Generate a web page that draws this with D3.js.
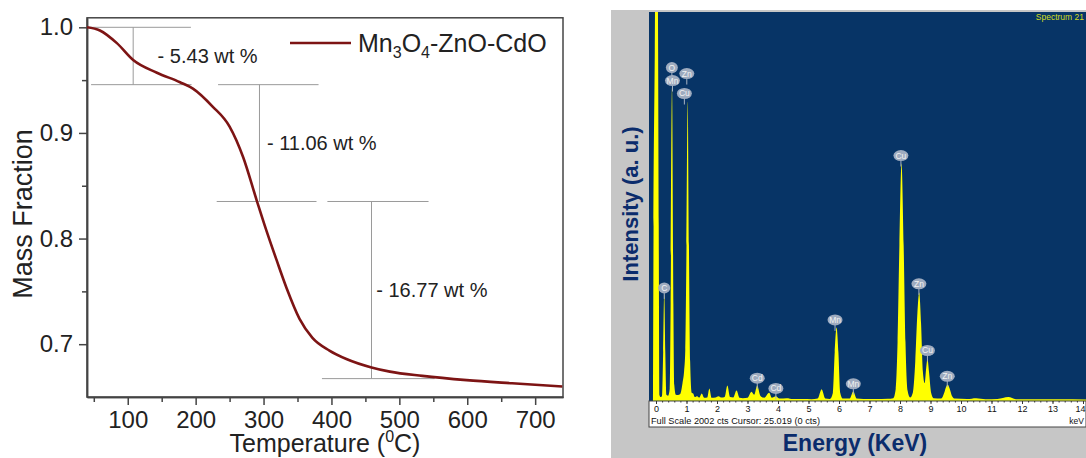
<!DOCTYPE html>
<html lang="en">
<head>
  <meta charset="UTF-8">
  <title>TGA and EDX of Mn3O4-ZnO-CdO</title>
  <script src="https://d3js.org/d3.v7.min.js"></script>
  <style>
    body { margin: 0; background: #fff; }
    svg { display: block; font-family: "Liberation Sans", Arial, sans-serif; }
    .tga .domain, .tga .tick line { stroke: #444; stroke-width: 1.5; }
    .tga .tick text { font-size: 24px; fill: #222; }
    .bracket { stroke: #9a9a9a; stroke-width: 1; fill: none; }
    .note { font-size: 20px; fill: #222; }
    .eds .tick text { font-size: 9px; fill: #111; }
    .eds .tick line { stroke: #333; }
    .eds .domain { stroke: none; }
    .tag text { font-size: 8.5px; fill: #f2f2f2; text-anchor: middle; }
  </style>
</head>
<body>
  <div id="chart"></div>

  <script>
    // ---- TGA curve (left) ----
    const temps = [40, 59, 84, 108, 143, 177, 196, 225, 250, 270, 290, 304, 319, 334, 353, 372, 397, 422, 459, 486, 534, 599, 666, 740];
    const mass  = [1.0, 0.997, 0.985, 0.969, 0.957, 0.948, 0.942, 0.925, 0.906, 0.877, 0.836, 0.808, 0.780, 0.753, 0.724, 0.706, 0.694, 0.686, 0.678, 0.674, 0.670, 0.666, 0.663, 0.660];
    const xTicks = [100, 200, 300, 400, 500, 600, 700];
    const yTicks = [0.7, 0.8, 0.9, 1.0];

    // weight-loss steps
    const lossPct   = [5.43, 11.06, 16.77];
    const topSpan   = [[40, 193], [233, 381], [394, 543]];   // upper guide line, in °C
    const botSpan   = [[46, 194], [231, 378], [386, 552]];   // lower guide line, in °C
    const stepAt    = [108, 294, 459];                       // vertical guide, in °C
    const noteAt    = [144, 305, 466];                       // label start, in °C

    // ---- EDX spectrum (right) ----
    const keV = [-0.1, -0.08, -0.04, -0.01, 0.04, 0.07, 0.09, 0.11,
      0.15, 0.2, 0.235, 0.27, 0.305, 0.34,
      0.4, 0.45, 0.48, 0.525, 0.57, 0.6, 0.65,
      0.72, 0.8, 0.87, 0.92, 0.96, 1.0, 1.04, 1.08, 1.12, 1.17,
      1.22, 1.27, 1.35, 1.42, 1.5, 1.58, 1.68, 1.75, 1.82, 1.95, 2.05, 2.15, 2.25, 2.34, 2.43, 2.53, 2.64, 2.74, 2.85,
      3.0, 3.13, 3.22, 3.32, 3.42, 3.55, 3.71, 3.8, 3.93, 4.05, 4.28, 4.5, 4.8, 5.1, 5.3, 5.43, 5.55, 5.7,
      5.8, 5.86, 5.92, 5.98, 6.04, 6.12, 6.35, 6.47, 6.58, 6.8, 7.2, 7.6,
      7.78, 7.86, 7.92, 7.98, 8.05, 8.12, 8.18, 8.25, 8.33,
      8.42, 8.5, 8.57, 8.63, 8.69, 8.75, 8.81, 8.86, 8.9, 8.95, 9.02, 9.1,
      9.35, 9.45, 9.51, 9.57, 9.63, 9.7, 9.8, 10.2, 10.5, 10.8, 11.2, 11.55, 11.8, 12.5, 13.2, 14.2];
    const counts = [0, 900, 1800, 2600, 2600, 1800, 900, 30,
      18, 22, 250, 552, 250, 30,
      25, 60, 500, 1615, 500, 80, 30,
      28, 35, 90, 150, 260, 800, 1543, 800, 200, 40,
      36, 18, 22, 15, 36, 14, 15, 62, 14, 16, 22, 15, 18, 77, 18, 16, 52, 14, 12,
      14, 45, 30, 77, 25, 14, 40, 14, 22, 10, 12, 8, 8, 7, 10, 58, 10, 8,
      40, 250, 377, 250, 40, 10, 10, 46, 10, 8, 8, 9,
      12, 60, 300, 800, 1223, 800, 300, 50, 15,
      40, 200, 450, 557, 400, 150, 90, 170, 216, 150, 40, 12,
      10, 40, 70, 81, 60, 25, 10, 8, 12, 7, 8, 18, 7, 6, 6, 5];
    const peakEl  = ["O", "Mn", "Zn", "Cu", "C", "Cd", "Cd", "Mn", "Mn", "Cu", "Zn", "Cu", "Zn"];
    const peakKeV = [0.52, 0.54, 1.01, 0.93, 0.27, 3.32, 3.93, 5.87, 6.47, 8.03, 8.62, 8.9, 9.55];
    const peakTag = [1718, 1651, 1687, 1584, 581, 115, 62, 416, 86, 1264, 602, 258, 125];
    const keVTicks = d3.range(0, 15);

    const svg = d3.select("#chart").append("svg")
      .attr("width", 1086).attr("height", 458);

    // ================= left: TGA =================
    const x = d3.scaleLinear().domain([40, 741]).range([87, 563]);
    const y = d3.scaleLinear().domain([0.65, 1.009]).range([397, 17.8]);

    const tga = svg.append("g").attr("class", "tga");

    // frame
    tga.append("rect")
      .attr("x", x.range()[0]).attr("y", y.range()[1])
      .attr("width", x.range()[1] - x.range()[0])
      .attr("height", y.range()[0] - y.range()[1])
      .attr("fill", "none").attr("stroke", "#444").attr("stroke-width", 1.5);

    tga.append("g")
      .attr("transform", `translate(0,${y.range()[0]})`)
      .call(d3.axisBottom(x).tickValues(xTicks).tickSize(8).tickPadding(6).tickSizeOuter(0));
    tga.append("g")
      .attr("transform", `translate(0,${y.range()[0]})`)
      .call(d3.axisBottom(x).tickValues(d3.range(50, 741, 100)).tickSize(5).tickFormat("").tickSizeOuter(0));

    tga.append("g")
      .attr("transform", `translate(${x.range()[0]},0)`)
      .call(d3.axisLeft(y).tickValues(yTicks).tickFormat(d3.format(".1f")).tickSize(8).tickPadding(6).tickSizeOuter(0));
    tga.append("g")
      .attr("transform", `translate(${x.range()[0]},0)`)
      .call(d3.axisLeft(y).tickValues([0.75, 0.85, 0.95]).tickSize(5).tickFormat("").tickSizeOuter(0));

    // guide brackets
    let level = 1.0;
    lossPct.forEach((p, i) => {
      const lo = level - p / 100;
      tga.append("line").attr("class", "bracket")
        .attr("x1", x(topSpan[i][0])).attr("x2", x(topSpan[i][1]))
        .attr("y1", y(level)).attr("y2", y(level));
      tga.append("line").attr("class", "bracket")
        .attr("x1", x(botSpan[i][0])).attr("x2", x(botSpan[i][1]))
        .attr("y1", y(lo)).attr("y2", y(lo));
      tga.append("line").attr("class", "bracket")
        .attr("x1", x(stepAt[i])).attr("x2", x(stepAt[i]))
        .attr("y1", y(level)).attr("y2", y(lo));
      tga.append("text").attr("class", "note")
        .attr("x", x(noteAt[i]))
        .attr("y", (y(level) + y(lo)) / 2)
        .attr("dy", "0.35em")
        .text(`- ${p.toFixed(2)} wt %`);
      level = lo;
    });

    const tgaData = temps.map((t, i) => ({ t, m: mass[i] }));
    tga.append("path")
      .datum(tgaData)
      .attr("fill", "none")
      .attr("stroke", "#7d1414")
      .attr("stroke-width", 2.6)
      .attr("d", d3.line().x(d => x(d.t)).y(d => y(d.m)).curve(d3.curveMonotoneX));

    // legend
    tga.append("line")
      .attr("x1", 290).attr("x2", 351).attr("y1", 43).attr("y2", 43)
      .attr("stroke", "#7d1414").attr("stroke-width", 2.6);
    const leg = tga.append("text").attr("x", 358).attr("y", 52)
      .attr("font-size", 25).attr("fill", "#222");
    leg.append("tspan").text("Mn");
    leg.append("tspan").attr("font-size", 16).attr("dy", 6).text("3");
    leg.append("tspan").attr("dy", -6).text("O");
    leg.append("tspan").attr("font-size", 16).attr("dy", 6).text("4");
    leg.append("tspan").attr("dy", -6).text("-ZnO-CdO");

    // axis titles
    tga.append("text")
      .attr("transform", "translate(32,214) rotate(-90)")
      .attr("text-anchor", "middle").attr("font-size", 27).attr("fill", "#222")
      .text("Mass Fraction");
    const xt = tga.append("text")
      .attr("x", 325).attr("y", 452)
      .attr("text-anchor", "middle").attr("font-size", 25).attr("fill", "#222");
    xt.append("tspan").text("Temperature (");
    xt.append("tspan").attr("font-size", 16).attr("dy", -10).text("0");
    xt.append("tspan").attr("dy", 10).text("C)");

    // ================= right: EDX =================
    const ex = d3.scaleLinear().domain([0, 14]).range([656, 1083]);
    const ey = d3.scaleLinear().domain([0, 2002]).range([400.5, 12.5]);
    const eds = svg.append("g").attr("class", "eds");

    eds.append("rect").attr("x", 611).attr("y", 10).attr("width", 475).attr("height", 448).attr("fill", "#c6c6c6");
    eds.append("rect").attr("x", 649).attr("y", 12).attr("width", 437).attr("height", 389).attr("fill", "#073466");
    eds.append("rect").attr("x", 649).attr("y", 401).attr("width", 437).attr("height", 26)
      .attr("fill", "#fff").attr("stroke", "#444").attr("stroke-width", 1);

    eds.append("clipPath").attr("id", "plotclip")
      .append("rect").attr("x", 649).attr("y", 12).attr("width", 437).attr("height", 389);

    const spec = keV.map((e, i) => ({ e, c: counts[i] }));
    eds.append("path")
      .datum(spec)
      .attr("clip-path", "url(#plotclip)")
      .attr("fill", "#ffff00")
      .attr("d", d3.area().x(d => ex(d.e)).y0(ey(0)).y1(d => ey(d.c)).curve(d3.curveMonotoneX));

    // energy axis inside the white strip
    const kAxis = eds.append("g")
      .attr("transform", "translate(0,401)")
      .call(d3.axisBottom(ex).tickValues(keVTicks).tickSize(3).tickPadding(2).tickFormat(d3.format("d")));
    kAxis.selectAll(".tick text").filter(d => d === 14).attr("text-anchor", "end").attr("dx", 2);
    eds.append("g")
      .attr("transform", "translate(0,401)")
      .call(d3.axisBottom(ex).tickValues(d3.range(0, 14.01, 0.2)).tickSize(1.5).tickFormat(""));

    eds.append("text").attr("x", 651).attr("y", 424).attr("font-size", 9.2).attr("fill", "#111")
      .text("Full Scale 2002 cts Cursor: 25.019  (0 cts)");
    eds.append("text").attr("x", 1084).attr("y", 424).attr("font-size", 8.5).attr("fill", "#111")
      .attr("text-anchor", "end").text("keV");
    eds.append("text").attr("x", 1084).attr("y", 20).attr("font-size", 8.5).attr("fill", "#d2dc1e")
      .attr("text-anchor", "end").text("Spectrum 21");

    // peak tags
    const tags = eds.selectAll(".tag")
      .data(peakEl.map((el, i) => ({ el, e: peakKeV[i], c: peakTag[i] })))
      .enter().append("g").attr("class", "tag")
      .attr("transform", d => `translate(${ex(d.e)},${ey(d.c)})`);
    tags.append("line").attr("x1", 0).attr("x2", 0).attr("y1", 4).attr("y2", 11)
      .attr("stroke", "#a9b4c4").attr("stroke-width", 1);
    tags.append("ellipse")
      .attr("rx", d => d.el.length > 1 ? 7.5 : 6).attr("ry", 5.5)
      .attr("fill", "#9eabbf");
    tags.append("text").attr("dy", "0.35em").text(d => d.el);

    // titles
    eds.append("text")
      .attr("transform", "translate(638,204) rotate(-90)")
      .attr("text-anchor", "middle").attr("font-size", 22).attr("font-weight", "bold").attr("fill", "#0b2c6c")
      .text("Intensity (a. u.)");
    eds.append("text")
      .attr("x", 855).attr("y", 451)
      .attr("text-anchor", "middle").attr("font-size", 23).attr("font-weight", "bold").attr("fill", "#0b2c6c")
      .text("Energy (KeV)");
  </script>
</body>
</html>
